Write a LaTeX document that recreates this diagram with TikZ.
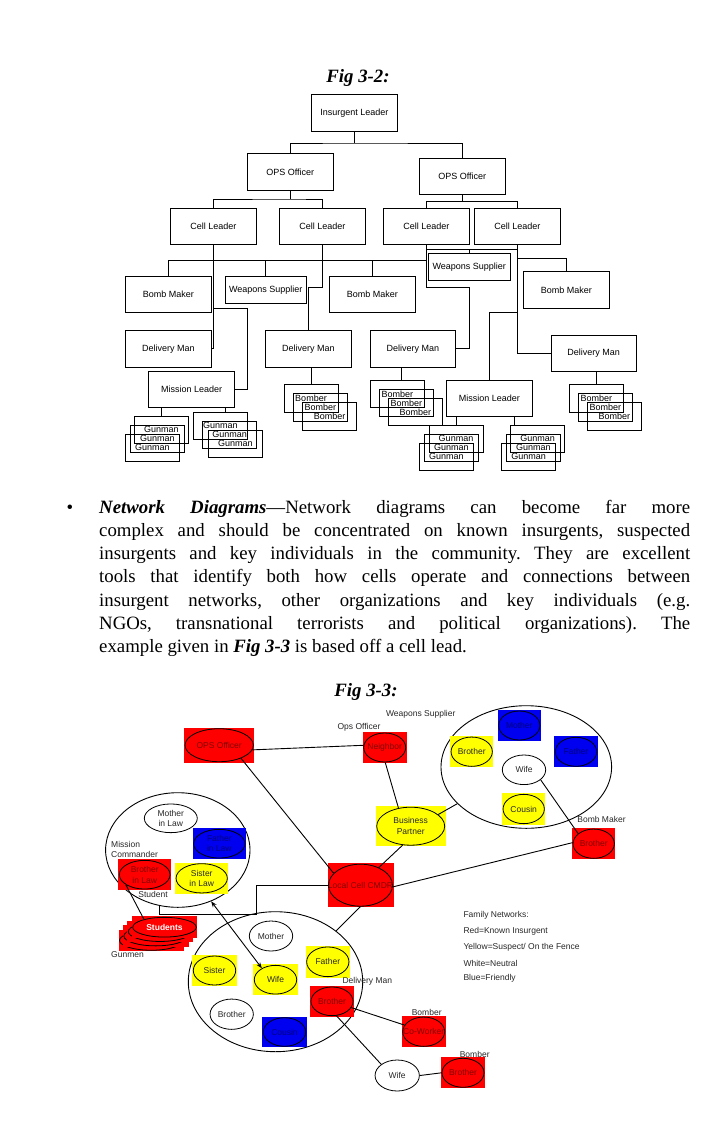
\documentclass[tikz,border=0pt]{standalone}
\usepackage{fontspec}
\setmainfont{Liberation Serif}
\newfontfamily\arial{Liberation Sans}
\usetikzlibrary{shapes.geometric,arrows.meta}
\frenchspacing
\definecolor{pred}{RGB}{255,0,0}
\definecolor{pyel}{RGB}{255,255,0}
\definecolor{pblue}{RGB}{0,0,240}
\definecolor{tred}{RGB}{130,0,0}
\definecolor{tblue}{RGB}{0,0,125}
\definecolor{tgray}{RGB}{40,40,40}
\tikzset{
 tbox/.style={draw, line width=0.9pt, inner sep=0pt, font=\arial\fontsize{9}{10}\selectfont},
 tline/.style={line width=0.9pt},
 sbox/.style={draw, line width=0.8pt, inner sep=0pt, minimum width=54pt, minimum height=27pt, font=\arial\fontsize{9}{10}\selectfont},
 sq/.style={draw=none, inner sep=0pt, align=center, font=\arial\fontsize{8.5}{10.5}\selectfont},
 ell/.style={ellipse, draw, line width=0.8pt, inner sep=0pt},
 bigell/.style={ellipse, draw, line width=0.9pt, inner sep=0pt},
 nline/.style={line width=0.9pt},
 lab/.style={inner sep=0pt, font=\arial\fontsize{8.5}{10}\selectfont, text=tgray},
 body/.style={inner sep=0pt, anchor=base west, font=\fontsize{18.8}{23.3}\selectfont},
 figt/.style={inner sep=0pt, anchor=base, font=\fontsize{18.8}{22}\selectfont\bfseries\itshape},
}
\newcommand\netnode[8]{%
 \node[sq, fill=#6, minimum width=#4pt, minimum height=#5pt, text=#7] (#1-bg) at (#2,#3) {#8};
 \node[ell, minimum width={#4pt-2pt}, minimum height={#5pt-2pt}] (#1) at (#2,#3) {};}
\begin{document}
\begin{tikzpicture}[x=1pt,y=-1pt]
\useasboundingbox (0,0) rectangle (728,1125);
\fill[white] (0,0) rectangle (728,1125);

% ---------------- Fig 3-2 ----------------
\node[figt] (f2) at (358,82.5) {Fig 3-2:};
\node[tbox, minimum width=86pt, minimum height=37pt] (il) at (354.3,112.8) {Insurgent Leader};
\node[tbox, minimum width=86pt, minimum height=37pt] (ops1) at (290.3,171.8) {OPS Officer};
\node[tbox, minimum width=86pt, minimum height=36pt] (ops2) at (462.3,176.3) {OPS Officer};
\node[tbox, minimum width=86pt, minimum height=36pt] (cl1) at (213.3,226.3) {Cell Leader};
\node[tbox, minimum width=86pt, minimum height=36pt] (cl2) at (322.3,226.3) {Cell Leader};
\node[tbox, minimum width=86pt, minimum height=36pt] (cl3) at (426.3,226.3) {Cell Leader};
\node[tbox, minimum width=86pt, minimum height=36pt] (cl4) at (517.3,226.3) {Cell Leader};
\node[tbox, minimum width=86pt, minimum height=36pt] (bm1) at (168.3,294.3) {Bomb Maker};
\node[tbox, minimum width=81pt, minimum height=27pt] (ws1) at (265.8,289.8) {Weapons Supplier};
\node[tbox, minimum width=86pt, minimum height=36pt] (bm2) at (372.3,294.3) {Bomb Maker};
\node[tbox, minimum width=82pt, minimum height=27pt] (ws2) at (469.3,266.8) {Weapons Supplier};
\node[tbox, minimum width=86pt, minimum height=37pt] (bm3) at (566.3,289.8) {Bomb Maker};
\node[tbox, minimum width=86pt, minimum height=37pt] (dm1) at (168.3,348.8) {Delivery Man};
\node[tbox, minimum width=86pt, minimum height=37pt] (dm2) at (308.3,348.8) {Delivery Man};
\node[tbox, minimum width=85.4pt, minimum height=37pt] (dm3) at (413,348.8) {Delivery Man};
\node[tbox, minimum width=85.3pt, minimum height=36pt] (dm4) at (593.7,353.3) {Delivery Man};
\node[tbox, minimum width=86pt, minimum height=36pt] (ml1) at (191.7,389.2) {Mission Leader};
\node[tbox, minimum width=86pt, minimum height=36pt] (ml2) at (489.3,398.3) {Mission Leader};

\coordinate (j0) at (354.3,143);
\draw[tline] (il.south) -- (j0);
\draw[tline] (ops1.north) |- (j0) -| (ops2.north);
\coordinate (j1) at (290.3,199);
\draw[tline] (ops1.south) -- (j1);
\draw[tline] (cl1.north) |- (j1) -| (cl2.north);
\coordinate (j2) at (462.3,201.7);
\draw[tline] (ops2.south) -- (j2);
\draw[tline] (cl3.north) |- (j2) -| (cl4.north);
\draw[tline] (cl1.south) |- (dm1.east);
\coordinate (k1) at (213.3,308.7);
\coordinate (k2) at (247.3,308.7);
\draw[tline] (k1) -- (k2) |- (ml1.east);
\coordinate (h2) at (426.3,260.3);
\draw[tline] (bm1.north) |- (h2);
\draw[tline] (ws1.north) -- (ws1.north |- h2);
\draw[tline] (bm2.north) -- (bm2.north |- h2);
\coordinate (p1) at (322.3,287.3);
\draw[tline] (cl2.south) -- (p1) -| (dm2.north);
\coordinate (m1) at (469.3,287.3);
\draw[tline] (cl3.south) |- (m1) |- (dm3.east);
\coordinate (w0) at (469.3,249.3);
\draw[tline] (ws2.north) -- (w0);
\draw[tline] (cl3.south |- w0) -- (cl4.south |- w0);
\draw[tline] (cl4.south) |- (dm4.west);
\coordinate (n1) at (517.3,258.3);
\draw[tline] (n1) -| (bm3.north);
\coordinate (n2) at (517.3,312.3);
\draw[tline] (n2) -| (ml2.north);

% bombers
\node[sbox, minimum height=28pt] (b1a) at (311,398.3) {Bomber};
\node[sbox, minimum height=28pt] (b1b) at (320.3,407.3) {Bomber};
\node[sbox, minimum height=28pt] (b1c) at (329.7,416.3) {Bomber};
\draw[tline] (b1a.north |- dm2.south) -- (b1a.north);
\node[sbox] (b2a) at (397.3,393.8) {Bomber};
\node[sbox] (b2b) at (406.3,402.8) {Bomber};
\node[sbox] (b2c) at (415.3,411.8) {Bomber};
\coordinate (b2top) at (401.3,380.3);
\draw[tline] (b2top |- dm3.south) -- (b2top);
\node[sbox, minimum height=28pt] (b3a) at (596.3,398.3) {Bomber};
\node[sbox, minimum height=28pt] (b3b) at (605.3,407.3) {Bomber};
\node[sbox, minimum height=28pt] (b3c) at (614.3,416.3) {Bomber};
\draw[tline] (b3a.north |- dm4.south) -- (b3a.north);
% gunmen
\node[sbox] (g1a) at (161.3,429.8) {Gunman};
\node[sbox] (g1b) at (157.3,438.8) {Gunman};
\node[sbox] (g1c) at (152.3,447.8) {Gunman};
\draw[tline] (g1a.north |- ml1.south) -- (g1a.north);
\node[sbox] (g2a) at (220.3,425.8) {Gunman};
\node[sbox] (g2b) at (229.7,434.5) {Gunman};
\node[sbox] (g2c) at (235.3,443.8) {Gunman};
\coordinate (g2top) at (225.3,412.3);
\draw[tline] (g2top |- ml1.south) -- (g2top);
\node[sbox] (g3a) at (456,438.8) {Gunman};
\node[sbox] (g3b) at (451.3,447.8) {Gunman};
\node[sbox] (g3c) at (446.3,456.8) {Gunman};
\draw[tline] (g3a.north |- ml2.south) -- (g3a.north);
\node[sbox] (g4a) at (537.7,438.8) {Gunman};
\node[sbox] (g4b) at (533.3,447.8) {Gunman};
\node[sbox] (g4c) at (528.7,456.8) {Gunman};
\coordinate (g4top) at (514.3,425.3);
\draw[tline] (g4top |- ml2.south) -- (g4top);

% ---------------- paragraph ----------------
\node[body] (bul) at (66.5,513) {\textbullet};
\node[body] (t1) at (99,513) {\makebox[591pt][s]{\textbf{\textit{Network Diagrams}}---Network diagrams can become far more}};
\node[body] (t2) at (99,536.3) {\makebox[591pt][s]{complex and should be concentrated on known insurgents, suspected}};
\node[body] (t3) at (99,559.6) {\makebox[591pt][s]{insurgents and key individuals in the community. They are excellent}};
\node[body] (t4) at (99,582.9) {\makebox[591pt][s]{tools that identify both how cells operate and connections between}};
\node[body] (t5) at (99,606.2) {\makebox[591pt][s]{insurgent networks, other organizations and key individuals (e.g.}};
\node[body] (t6) at (99,629.5) {\makebox[591pt][s]{NGOs, transnational terrorists and political organizations). The}};
\node[body] (t7) at (99,652.8) {example given in \textbf{\textit{Fig 3-3}} is based off a cell lead.};

% ---------------- Fig 3-3 ----------------
\node[figt] (f3) at (366,696.5) {Fig 3-3:};
\node[bigell, minimum width=170.6pt, minimum height=122.6pt] (rbig) at (526.3,767) {};
\node[bigell, minimum width=144.4pt, minimum height=114.6pt] (lbig) at (177.8,850) {};
\node[bigell, minimum width=174.4pt, minimum height=140pt] (bbig) at (275.5,981.7) {};

\netnode{opso}{219.2}{745.2}{70.3}{35}{pred}{tred}{OPS Officer}
\netnode{nbr}{384.7}{747.5}{44}{31}{pred}{tred}{Neighbor}
\netnode{bp}{410.7}{826.2}{70}{40}{pyel}{tgray}{Business\\Partner}
\netnode{cmdr}{360.5}{885.2}{66}{44}{pred}{tred}{Local Cell CMDR}
\netnode{mo1}{519.3}{725.5}{43.3}{31}{pblue}{tblue}{Mother}
\netnode{fa1}{576}{751.8}{43.4}{31}{pblue}{tblue}{Father}
\netnode{br1}{471.7}{751.7}{43.3}{31.3}{pyel}{tgray}{Brother}
\netnode{wi1}{524}{769.8}{45.4}{31.6}{none}{tgray}{Wife}
\netnode{co1}{523.7}{809}{43.3}{31.3}{pyel}{tgray}{Cousin}
\netnode{br2}{593.7}{843.7}{43.3}{31.3}{pred}{tred}{Brother}
\netnode{mil}{170.8}{818.3}{55}{30.7}{none}{tgray}{Mother\\in Law}
\netnode{fil}{219.3}{843.7}{53.3}{30.7}{pblue}{tblue}{Father\\in Law}
\netnode{bil}{144.7}{874.7}{52.7}{30.7}{pred}{tred}{Brother\\in Law}
\netnode{sil}{201.7}{878.3}{53.3}{31.3}{pyel}{tgray}{Sister\\in Law}
\foreach \q in {3,2,1}{
 \netnode{stu\q}{164.5-4.4*\q}{927.2+4.4*\q}{65.6}{21.7}{pred}{white}{}
}
\netnode{stu}{164.5}{927.2}{65.6}{21.7}{pred}{white}{\bfseries Students}
\netnode{mo2}{271}{936}{45.4}{32}{none}{tgray}{Mother}
\netnode{si2}{214.5}{970.5}{44.4}{31}{pyel}{tgray}{Sister}
\netnode{wi2}{275.5}{979.7}{44.4}{30.7}{pyel}{tgray}{Wife}
\netnode{fa2}{327.8}{961.8}{44.3}{31.7}{pyel}{tgray}{Father}
\netnode{br3}{332}{1001.3}{44}{30.7}{pred}{tred}{Brother}
\netnode{br4}{231.7}{1014.2}{45.3}{32.3}{none}{tgray}{Brother}
\netnode{co2}{284.5}{1032}{44.4}{30.6}{pblue}{tblue}{Cousin}
\netnode{cow}{423.7}{1031.7}{44}{31.3}{pred}{tred}{Co-Worker}
\netnode{wi3}{397.2}{1075.5}{46.3}{33}{none}{tgray}{Wife}
\netnode{br5}{463}{1072.8}{44}{31}{pred}{tred}{Brother}

% labels
\node[lab] (lops) at (359,727.3) {Ops Officer};
\node[lab] (lws) at (420.7,714) {Weapons Supplier};
\node[lab] (lbm) at (601.5,819) {Bomb Maker};
\node[lab, anchor=west, align=left] (lmc) at (111,849) {Mission\\Commander};
\node[lab] (lst) at (153,894) {Student};
\node[lab] (lgm) at (127.5,955) {Gunmen};
\node[lab] (ldm) at (367.3,981) {Delivery Man};
\node[lab] (lb1) at (426.7,1012) {Bomber};
\node[lab] (lb2) at (474.7,1054.7) {Bomber};
\node[lab, anchor=west] (lg0) at (463.3,915.3) {Family Networks:};
\node[lab, anchor=west] (lg1) at (463.3,931.7) {Red=Known Insurgent};
\node[lab, anchor=west] (lg2) at (463.3,947.3) {Yellow=Suspect/ On the Fence};
\node[lab, anchor=west] (lg3) at (463.3,963) {White=Neutral};
\node[lab, anchor=west] (lg4) at (463.3,978.7) {Blue=Friendly};

% connectors
\draw[nline] (opso.-8) -- (nbr.174);
\draw[nline] (opso.-31) -- (cmdr.156);
\draw[nline] (nbr.-88) -- (bp.124);
\draw[nline] (bp.23) -- (rbig.208);
\draw[nline] (bp.247) -- (cmdr.44);
\draw[nline] (wi1.-31) -- (br2.147);
\draw[nline] (cmdr.-3) -- (br2.177);
\draw[nline] (bil.208) -- (stu.159);
\coordinate (e1) at (256.7,914.3);
\draw[nline] (lbig.252) |- (e1) |- (cmdr.west);
\draw[nline, {Stealth[length=6pt,width=4.5pt]}-{Stealth[length=6pt,width=4.5pt]}] (lbig.-57) -- (wi2.140);
\draw[nline] (cmdr.south) -- (bbig.40);
\draw[nline] (br3.-18) -- (cow.161);
\draw[nline] (br3.-73) -- (wi3.145);
\draw[nline] (wi3.east) -- (br5.west);
\end{tikzpicture}
\end{document}
